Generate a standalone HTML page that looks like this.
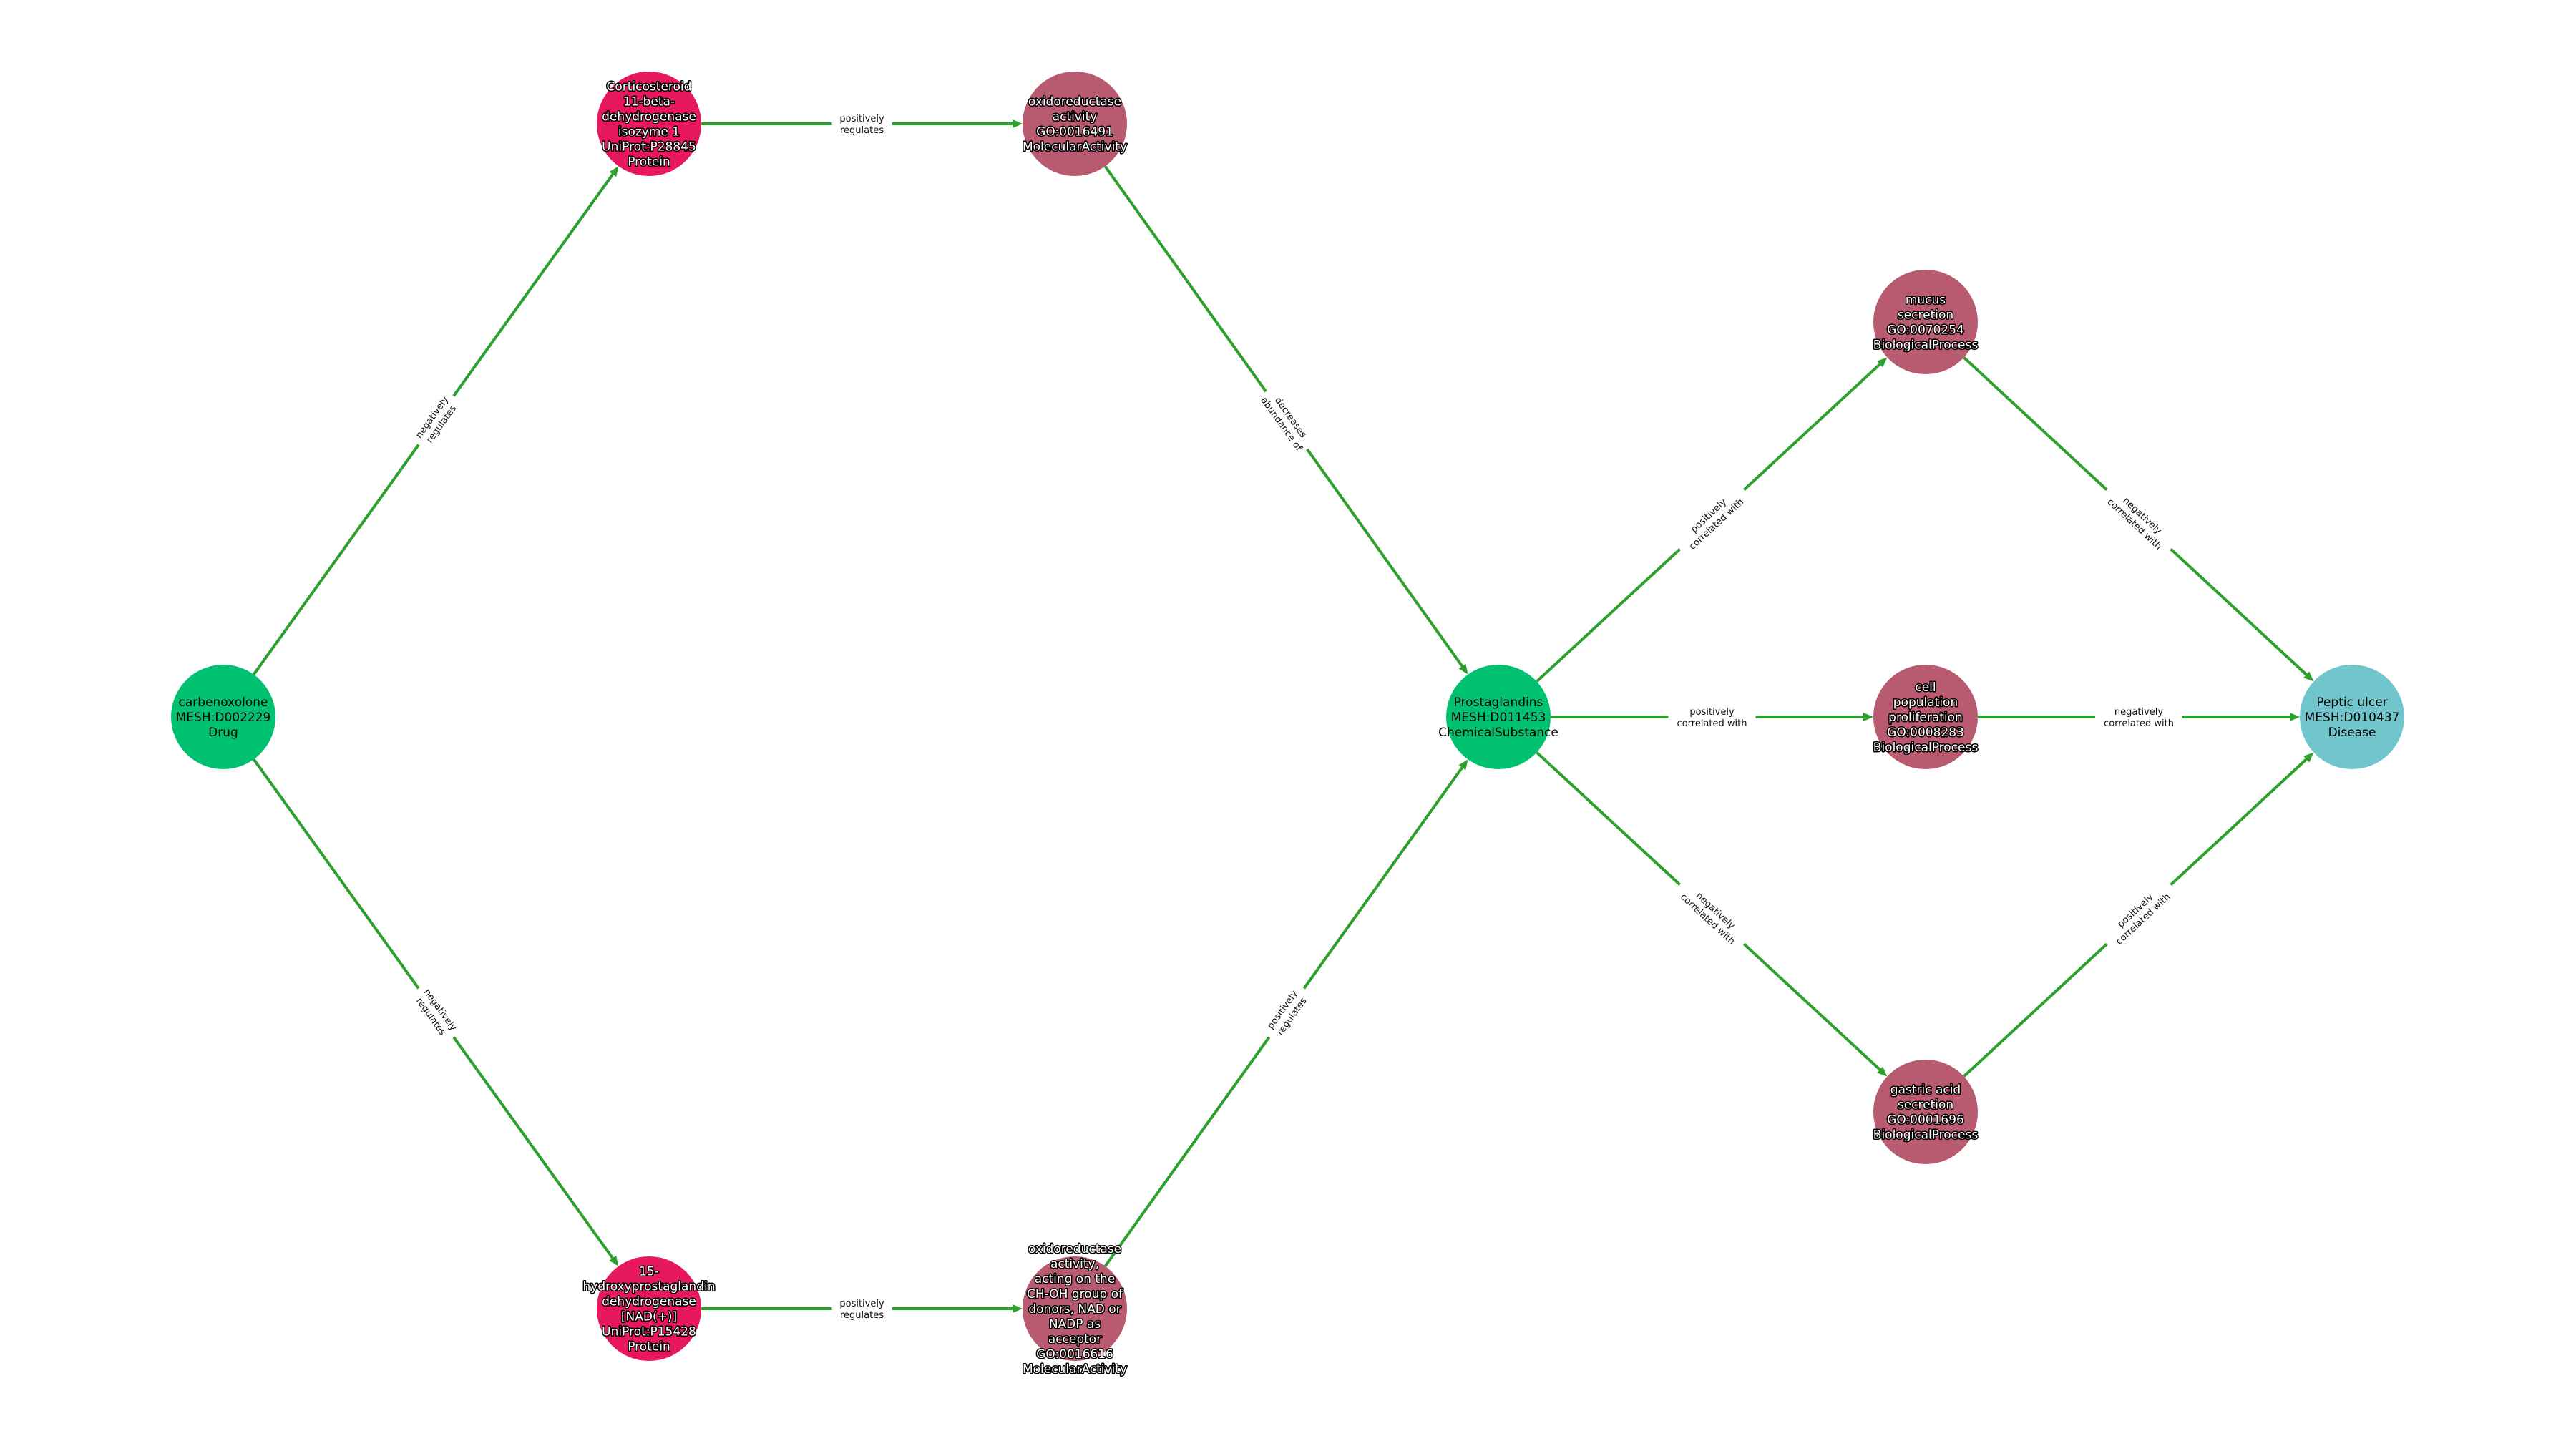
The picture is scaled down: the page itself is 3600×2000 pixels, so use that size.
<!DOCTYPE html>
<html><head><meta charset="utf-8"><style>
html,body{margin:0;padding:0;background:#fff;}
svg{display:block;}
text{font-family:"DejaVu Sans","Liberation Sans",sans-serif;}
</style></head><body>
<svg id="s" width="3600" height="2000" viewBox="0 0 3600 2000" xmlns="http://www.w3.org/2000/svg"></svg>
<script>
const N={
 carb:{x:312,y:1002,c:"#00c170",t:["carbenoxolone","MESH:D002229","Drug"],dark:1},
 cort:{x:907,y:173,c:"#e8185f",t:["Corticosteroid","11-beta-","dehydrogenase","isozyme 1","UniProt:P28845","Protein"]},
 ox1:{x:1502,y:173,c:"#b85a70",t:["oxidoreductase","activity","GO:0016491","MolecularActivity"]},
 hyd:{x:907,y:1829,c:"#e8185f",t:["15-","hydroxyprostaglandin","dehydrogenase","[NAD(+)]","UniProt:P15428","Protein"]},
 ox2:{x:1502,y:1829,c:"#b85a70",t:["oxidoreductase","activity,","acting on the","CH-OH group of","donors, NAD or","NADP as","acceptor","GO:0016616","MolecularActivity"]},
 pros:{x:2094,y:1002,c:"#00c170",t:["Prostaglandins","MESH:D011453","ChemicalSubstance"],dark:1},
 muc:{x:2691,y:450,c:"#b85a70",t:["mucus","secretion","GO:0070254","BiologicalProcess"]},
 cell:{x:2691,y:1002,c:"#b85a70",t:["cell","population","proliferation","GO:0008283","BiologicalProcess"]},
 gas:{x:2691,y:1554,c:"#b85a70",t:["gastric acid","secretion","GO:0001696","BiologicalProcess"]},
 pep:{x:3287,y:1002,c:"#70c6cc",t:["Peptic ulcer","MESH:D010437","Disease"],dark:1}
};
const E=[
 ["carb","cort",["negatively","regulates"]],
 ["carb","hyd",["negatively","regulates"]],
 ["cort","ox1",["positively","regulates"]],
 ["hyd","ox2",["positively","regulates"]],
 ["ox1","pros",["decreases","abundance of"]],
 ["ox2","pros",["positively","regulates"]],
 ["pros","muc",["positively","correlated with"]],
 ["pros","cell",["positively","correlated with"]],
 ["pros","gas",["negatively","correlated with"]],
 ["muc","pep",["negatively","correlated with"]],
 ["cell","pep",["negatively","correlated with"]],
 ["gas","pep",["positively","correlated with"]]
];
const R=73;let h="";
for(const [a,b,l] of E){
 const A=N[a],B=N[b];const dx=B.x-A.x,dy=B.y-A.y,d=Math.hypot(dx,dy),ux=dx/d,uy=dy/d;
 const sx=A.x+ux*R,sy=A.y+uy*R,ex=B.x-ux*R,ey=B.y-uy*R;
 const lx=ex-ux*14,ly=ey-uy*14;
 h+=`<line x1="${sx}" y1="${sy}" x2="${lx}" y2="${ly}" stroke="#2ca02c" stroke-width="4"/>`;
 h+=`<polygon points="${ex},${ey} ${lx-uy*6},${ly+ux*6} ${lx+uy*6},${ly-ux*6}" fill="#2ca02c"/>`;
}
for(const [a,b,l] of E){
 const A=N[a],B=N[b];const mx=(A.x+B.x)/2,my=(A.y+B.y)/2;
 let ang=Math.atan2(B.y-A.y,B.x-A.x)*180/Math.PI;if(ang>90)ang-=180;if(ang<-90)ang+=180;
 const w=Math.max(...l.map(s=>s.length))*7.6+8;
 h+=`<g transform="translate(${mx},${my}) rotate(${ang})"><rect x="${-w/2}" y="-18" width="${w}" height="36" fill="#fff"/>`;
 h+=`<text font-size="13" text-anchor="middle" fill="#111"><tspan x="0" y="-3">${l[0]}</tspan><tspan x="0" y="13">${l[1]}</tspan></text></g>`;
}
for(const k in N){
 const n=N[k];h+=`<circle cx="${n.x}" cy="${n.y}" r="${R}" fill="${n.c}"/>`;
 const lh=21,y0=n.y-(n.t.length-1)*lh/2+6;
 const st=n.dark?'fill="#000"':'fill="#fff" stroke="#000" stroke-width="3" paint-order="stroke" stroke-linejoin="round"';
 h+=`<text font-size="17" text-anchor="middle" ${st}>`+n.t.map((s,i)=>`<tspan x="${n.x}" y="${y0+i*lh}">${s}</tspan>`).join("")+`</text>`;
}
document.getElementById("s").innerHTML=h;
</script>
</body></html>
